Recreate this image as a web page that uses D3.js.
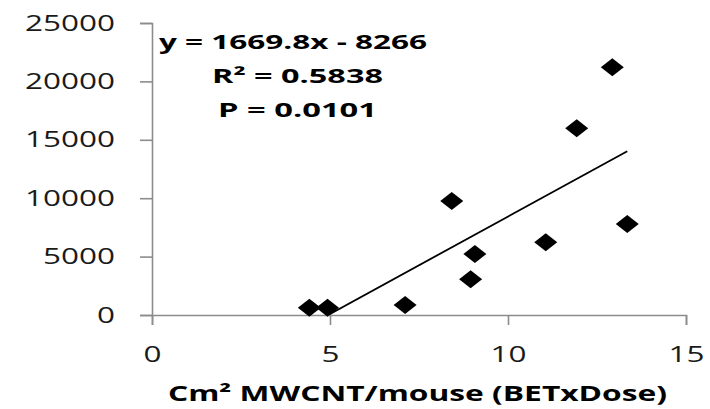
<!DOCTYPE html>
<html>
<head>
<meta charset="utf-8">
<script src="https://cdn.jsdelivr.net/npm/d3@7"></script>
<style>
  body { margin: 0; background: #fff; }
  svg { display: block; font-family: "Open Sans", sans-serif; }
</style>
</head>
<body>
<svg width="710" height="409"></svg>
<script>
// values
var doseX = [4.42, 4.93, 7.11, 8.42, 8.95, 9.07, 11.06, 13.35, 11.93, 12.93];
var respY = [625, 625, 856, 9760, 3056, 5222, 6224, 7791, 15985, 21207];
var xTicks = [0, 5, 10, 15];
var yTicks = [0, 5000, 10000, 15000, 20000, 25000];
var slope = 1669.8, intercept = -8266;
var statLines = ["y = 1669.8x - 8266", "R\u00b2 = 0.5838", "P = 0.0101"];
var xTitle = "Cm\u00b2 MWCNT/mouse (BETxDose)";

var svg = d3.select("svg");
var stretch = 1.43; // source picture is stretched sideways

var x = d3.scaleLinear().domain([0, 15]).range([152, 686]);
var y = d3.scaleLinear().domain([0, 25000]).range([315, 23]);

svg.append("defs").append("clipPath").attr("id", "plot")
  .append("rect")
  .attr("x", x(0)).attr("y", y(25000))
  .attr("width", x(15) - x(0)).attr("height", y(0) - y(25000));

// axes
var yAxis = svg.append("g")
  .attr("transform", "translate(" + x(0) + ",0)")
  .call(d3.axisLeft(y).tickValues(yTicks).tickSize(12).tickSizeOuter(12).tickFormat(d3.format("d")));

var xAxis = svg.append("g")
  .attr("transform", "translate(0," + y(0) + ")")
  .call(d3.axisBottom(x).tickValues(xTicks).tickSize(10).tickSizeOuter(10).tickFormat(d3.format("d")));

svg.selectAll(".domain, .tick line")
  .attr("stroke", "#8c8c8c")
  .attr("stroke-width", 1.6);

yAxis.selectAll("text")
  .attr("x", 0)
  .attr("transform", "translate(-37,0) scale(" + stretch + ",1)")
  .attr("font-size", 22)
  .attr("font-family", "Open Sans")
  .attr("fill", "#1a1a1a");

xAxis.selectAll("text")
  .attr("dy", null)
  .attr("y", 0)
  .attr("transform", "translate(0,47) scale(" + stretch + ",1)")
  .attr("font-size", 22)
  .attr("font-family", "Open Sans")
  .attr("fill", "#1a1a1a");

// trendline
var xs = d3.extent(doseX);
svg.append("line")
  .attr("clip-path", "url(#plot)")
  .attr("x1", x(xs[0])).attr("y1", y(slope * xs[0] + intercept))
  .attr("x2", x(xs[1])).attr("y2", y(slope * xs[1] + intercept))
  .attr("stroke", "#000")
  .attr("stroke-width", 1.8);

// points
svg.append("g")
  .selectAll("path")
  .data(doseX)
  .enter().append("path")
  .attr("transform", function(d, i) { return "translate(" + x(d) + "," + y(respY[i]) + ")"; })
  .attr("d", "M0,-9L11.5,0L0,9L-11.5,0Z")
  .attr("fill", "#000");

// regression stats
var statPos = [[159, 49, 268], [212, 83, 171], [218, 117, 159]];
svg.append("g")
  .selectAll("text")
  .data(statLines)
  .enter().append("text")
  .attr("x", function(d, i) { return statPos[i][0]; })
  .attr("y", function(d, i) { return statPos[i][1]; })
  .attr("textLength", function(d, i) { return statPos[i][2]; })
  .attr("lengthAdjust", "spacingAndGlyphs")
  .attr("font-size", 20)
  .attr("font-weight", "bold")
  .attr("fill", "#000")
  .text(function(d) { return d; });

// x axis title
svg.append("text")
  .attr("x", 168)
  .attr("y", 401)
  .attr("textLength", 499)
  .attr("lengthAdjust", "spacingAndGlyphs")
  .attr("font-size", 21)
  .attr("font-weight", "bold")
  .attr("fill", "#000")
  .text(xTitle);
</script>
</body>
</html>
